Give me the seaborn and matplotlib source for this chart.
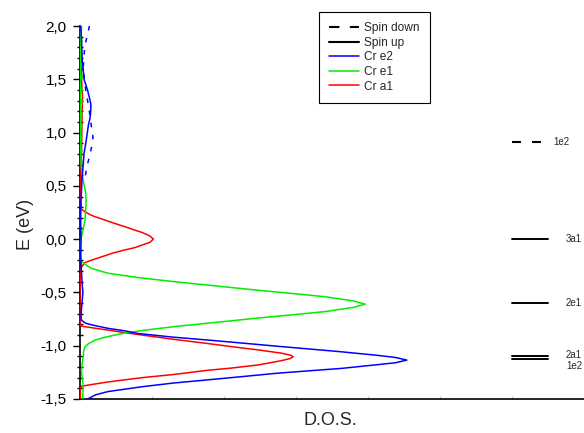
import matplotlib
matplotlib.use("Agg")
import matplotlib.pyplot as plt
from matplotlib.lines import Line2D
from matplotlib.ticker import MultipleLocator, FuncFormatter
import seaborn as sns

# Cr a1 (spin up)
e_a1 = [2.0, 1.8, 1.6, 1.45, 1.33, 1.2, 1.0, 0.8, 0.6, 0.45, 0.35, 0.28, 0.256, 0.22, 0.19,
        0.15, 0.115, 0.085, 0.063, 0.03, 0.0, -0.03, -0.056, -0.08, -0.10, -0.13, -0.166, -0.20,
        -0.22, -0.26, -0.35, -0.5, -0.65, -0.75, -0.80, -0.816, -0.835, -0.853, -0.88, -0.90,
        -0.94, -0.98, -1.01, -1.04, -1.07, -1.09, -1.104, -1.12, -1.14, -1.18, -1.21, -1.23,
        -1.27, -1.30, -1.32, -1.34, -1.36, -1.38, -1.42, -1.5]
dos_a1 = [0.015, 0.02, 0.02, 0.025, 0.035, 0.03, 0.025, 0.02, 0.015, 0.01, 0.01, 0.02, 0.07, 0.17, 0.30,
          0.47, 0.63, 0.76, 0.86, 0.97, 1.02, 0.97, 0.86, 0.76, 0.63, 0.46, 0.30, 0.15,
          0.07, 0.02, 0.005, 0.0, 0.0, 0.0, 0.005, 0.02, 0.2, 0.39, 0.65, 0.86,
          1.3, 1.78, 2.12, 2.48, 2.80, 2.93, 2.96, 2.92, 2.80, 2.48, 2.10, 1.78,
          1.30, 0.86, 0.62, 0.39, 0.2, 0.02, 0.005, 0.005]

# Cr e1 (spin up)
e_e1 = [2.0, 1.7, 1.4, 1.1, 0.9, 0.7, 0.6, 0.55, 0.45, 0.37, 0.28, 0.18, 0.08, 0.02, -0.07,
        -0.15, -0.21, -0.25, -0.275, -0.32, -0.36, -0.40, -0.44, -0.48, -0.51, -0.54, -0.58,
        -0.61, -0.64, -0.68, -0.71, -0.74, -0.78, -0.82, -0.85, -0.88, -0.92, -0.947, -0.98,
        -1.01, -1.05, -1.10, -1.17, -1.23, -1.30, -1.38, -1.45, -1.5]
dos_e1 = [0.005, 0.005, 0.005, 0.01, 0.01, 0.015, 0.03, 0.045, 0.075, 0.085, 0.08, 0.07, 0.04, 0.02, 0.0,
          0.005, 0.02, 0.10, 0.16, 0.39, 0.80, 1.32, 1.90, 2.48, 2.95, 3.40, 3.80,
          3.96, 3.80, 3.40, 2.95, 2.48, 1.90, 1.32, 0.95, 0.625, 0.35, 0.21, 0.12,
          0.07, 0.05, 0.046, 0.03, 0.02, 0.03, 0.046, 0.04, 0.035]

# Cr e2 (spin up)
e_e2 = [2.0, 1.87, 1.68, 1.49, 1.41, 1.33, 1.27, 1.21, 1.14, 1.08, 1.04, 0.99, 0.9, 0.8, 0.7,
        0.58, 0.45, 0.30, 0.15, 0.0, -0.15, -0.3, -0.42, -0.5, -0.58, -0.66, -0.72, -0.76,
        -0.79, -0.81, -0.837, -0.86, -0.885, -0.92, -0.947, -0.975, -1.003, -1.03, -1.057,
        -1.075, -1.088, -1.11, -1.135, -1.16, -1.18, -1.213, -1.236, -1.26, -1.29, -1.32,
        -1.35, -1.385, -1.41, -1.43, -1.46, -1.495, -1.5]
dos_e2 = [0.01, 0.02, 0.03, 0.06, 0.10, 0.13, 0.15, 0.15, 0.14, 0.12, 0.11, 0.10, 0.08, 0.055, 0.045,
          0.03, 0.02, 0.01, 0.01, 0.015, 0.01, 0.02, 0.03, 0.04, 0.03, 0.02, 0.015, 0.02,
          0.08, 0.20, 0.39, 0.62, 0.80, 1.30, 1.78, 2.25, 2.71, 3.17, 3.63,
          3.90, 4.10, 4.38, 4.54, 4.38, 4.10, 3.63, 3.17, 2.71, 2.25, 1.78,
          1.30, 0.86, 0.60, 0.39, 0.22, 0.12, 0.11]

# spin down
e_e2_dn = [2.0, 1.95, 1.88, 1.82, 1.72, 1.62, 1.5, 1.4, 1.32, 1.2, 1.05, 0.96, 0.88, 0.80, 0.69, 0.58, 0.55]
dos_e2_dn = [0.13, 0.115, 0.09, 0.07, 0.055, 0.046, 0.06, 0.08, 0.10, 0.13, 0.16, 0.18, 0.165, 0.14, 0.10, 0.07, 0.06]
e_e1_dn = [2.0, 1.5, 1.0, 0.6]
dos_e1_dn = [0.02, 0.03, 0.02, 0.03]
e_a1_dn = [2.0, 1.3, 0.6]
dos_a1_dn = [0.005, 0.02, 0.01]

# molecular levels on the right
level_e = [0.91, 0.0, -0.60, -1.095, -1.128]
level_spin = ["down", "up", "up", "up", "up"]
label_names = ["1e2", "3a1", "2e1", "2a1", "1e2"]
label_e = [0.91, 0.0, -0.60, -1.09, -1.19]

sns.set_style("ticks")
plt.rcParams["font.family"] = ["Liberation Sans", "DejaVu Sans"]

fig = plt.figure(figsize=(5.84, 4.33), dpi=100)
ax = fig.add_axes([80 / 584, 1 - 399 / 433, 504 / 584, 373 / 433])

curves = [
    (dos_a1, e_a1, "#ff0000", "-", 3.0),
    (dos_e1, e_e1, "#00ee00", "-", 3.1),
    (dos_e2, e_e2, "#0000ff", "-", 3.2),
    (dos_a1_dn, e_a1_dn, "#ff0000", (0, (3, 5)), 3.0),
    (dos_e1_dn, e_e1_dn, "#00ee00", (0, (3, 5)), 3.1),
    (dos_e2_dn, e_e2_dn, "#0000ff", (0, (3, 5)), 3.2),
]
for x, y, c, ls, z in curves:
    sns.lineplot(x=x, y=y, sort=False, estimator=None, color=c, linestyle=ls,
                 linewidth=1.1, ax=ax, zorder=z)

# levels
for e, s in zip(level_e, level_spin):
    if s == "down":
        ax.plot([6.0, 6.42], [e, e], color="black", lw=1.5, linestyle=(0, (4.3, 5.3)))
    else:
        ax.plot([6.0, 6.5], [e, e], color="black", lw=1.4)
for i, (name, e) in enumerate(zip(label_names, label_e)):
    ax.text(6.58 if i == 0 else 6.75, e, name, fontsize=7, va="center", ha="left")

ax.set_xlim(0, 7)
ax.set_ylim(-1.5, 2.0)
ax.yaxis.set_major_locator(MultipleLocator(0.5))
ax.yaxis.set_minor_locator(MultipleLocator(0.1))
ax.yaxis.set_major_formatter(FuncFormatter(lambda v, p: f"{v:.1f}".replace(".", ",")))
ax.set_xticks([1, 2, 3, 4, 5, 6])
ax.tick_params(axis="x", direction="in", length=2, color="#c8c8c8", labelbottom=False)
ax.tick_params(axis="y", which="major", direction="out", length=5, width=1.0,
               labelsize=11, pad=4.5, colors="black")
ax.tick_params(axis="y", which="minor", direction="inout", length=4, width=1.0, color="black")

sns.despine(ax=ax)
for sp in ["left", "bottom"]:
    ax.spines[sp].set_color("black")
    ax.spines[sp].set_linewidth(1.2)

ax.set_xlabel("D.O.S.", fontsize=13)
ax.xaxis.set_label_coords(0.496, -0.035)
ax.set_ylabel("E (eV)", fontsize=13)
ax.yaxis.set_label_coords(-0.091, 0.469)

handles = [
    Line2D([], [], color="black", lw=1.5, linestyle=(0, (5, 5))),
    Line2D([], [], color="black", lw=1.5),
    Line2D([], [], color="#0000ff", lw=1.1),
    Line2D([], [], color="#00ee00", lw=1.1),
    Line2D([], [], color="#ff0000", lw=1.1),
]
leg = fig.legend(handles, ["Spin down", "Spin up", "Cr e2", "Cr e1", "Cr a1"],
                 loc="upper left", bbox_to_anchor=(319 / 584, 1 - 12 / 433),
                 fontsize=8.6, frameon=True, fancybox=False, framealpha=1,
                 edgecolor="black", borderpad=0.85, labelspacing=0.22,
                 handlelength=2.5, handletextpad=0.45, borderaxespad=0)
leg.get_frame().set_linewidth(0.8)

fig.savefig("out.png", dpi=100)
